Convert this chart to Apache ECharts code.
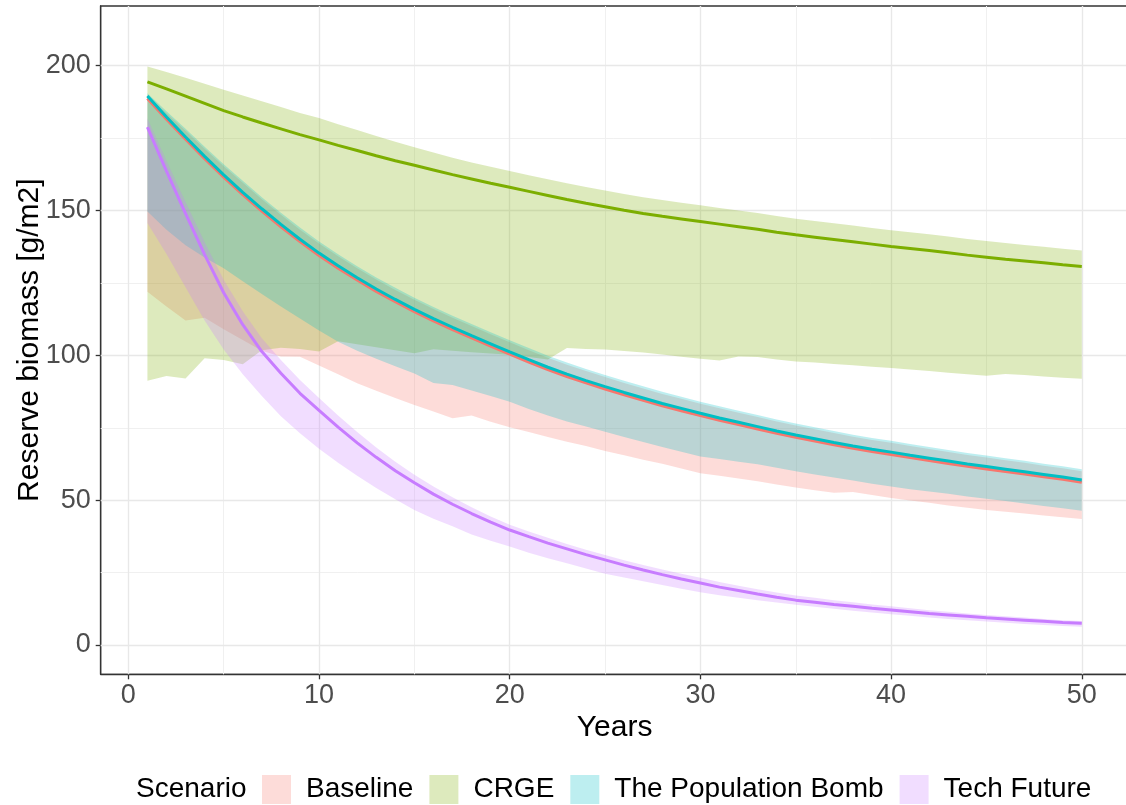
<!DOCTYPE html>
<html><head><meta charset="utf-8">
<script src="https://cdn.jsdelivr.net/npm/echarts@6/dist/echarts.min.js"></script>
<style>html,body{margin:0;padding:0;background:#fff}#c{width:1126px;height:805px}</style>
</head><body><div id="c"></div>
<script>
const years = [1,2,3,4,5,6,7,8,9,10,11,12,13,14,15,16,17,18,19,20,21,22,23,24,25,26,27,28,29,30,31,32,33,34,35,36,37,38,39,40,41,42,43,44,45,46,47,48,49,50];

const baselineMean  = [188.7,181.5,174.6,167.9,161.5,155.5,149.8,144.4,139.3,134.5,130.1,126.0,122.1,118.5,115.1,111.9,108.9,106.0,103.2,100.4,97.7,95.1,92.7,90.5,88.4,86.4,84.5,82.6,80.9,79.2,77.6,76.1,74.6,73.1,71.7,70.4,69.1,67.9,66.8,65.8,64.7,63.7,62.7,61.7,60.8,59.9,59.0,58.1,57.2,56.2];
const baselineUpper = [189.8,183.6,177.5,171.3,165.3,159.6,153.9,148.5,143.4,138.6,134.2,130.1,126.2,122.6,119.2,116.0,113.0,110.1,107.3,104.5,101.8,99.2,96.8,94.6,92.5,90.5,88.6,86.7,85.0,83.3,81.7,80.2,78.7,77.2,75.8,74.5,73.2,71.9,70.8,69.8,68.7,67.7,66.6,65.6,64.7,63.8,62.9,61.9,61.0,60.0];
const baselineLower = [122.0,116.9,112.0,113.0,109.0,105.3,101.6,99.6,99.5,96.5,93.5,90.4,87.8,85.3,82.9,80.6,78.3,79.2,77.1,75.2,73.5,71.8,70.2,68.7,67.0,65.5,64.0,62.6,60.9,59.3,58.4,57.5,56.5,55.4,54.4,53.4,52.6,52.8,51.8,50.8,49.9,49.1,48.2,47.4,46.6,46.0,45.4,44.7,44.1,43.5];

const crgeMean  = [194.4,192.0,189.5,187.0,184.5,182.3,180.2,178.2,176.2,174.4,172.5,170.7,168.9,167.2,165.6,164.0,162.4,160.9,159.4,158.0,156.6,155.2,153.8,152.5,151.3,150.1,149.0,148.0,147.1,146.2,145.3,144.4,143.5,142.5,141.6,140.8,140.0,139.2,138.4,137.6,136.9,136.2,135.4,134.6,133.9,133.2,132.6,132.0,131.3,130.7];
const crgeUpper = [199.7,197.8,195.8,193.8,191.7,189.7,187.7,185.7,183.7,181.9,179.8,177.8,175.7,173.7,171.8,170.0,168.2,166.6,165.1,163.6,162.2,160.8,159.4,158.1,156.9,155.7,154.6,153.6,152.7,151.8,150.9,150.0,149.1,148.1,147.2,146.4,145.6,144.8,144.0,143.2,142.5,141.8,141.0,140.2,139.5,138.8,138.1,137.5,136.8,136.2];
const crgeLower = [91.2,92.9,92.0,99.0,98.4,96.9,101.8,102.6,102.2,101.3,104.9,103.8,102.8,101.8,100.7,102.1,101.6,101.1,100.6,100.2,99.4,98.6,102.5,102.2,102.0,101.5,101.0,100.3,99.5,98.8,98.2,99.6,99.4,98.6,97.9,97.5,97.0,96.6,96.1,95.6,95.1,94.6,94.0,93.5,93.0,93.6,93.2,92.7,92.3,91.9];

const popMean  = [189.5,182.3,175.4,168.7,162.3,156.3,150.6,145.2,140.1,135.3,130.9,126.8,122.9,119.3,115.9,112.7,109.7,106.8,104.0,101.2,98.5,95.9,93.5,91.3,89.2,87.2,85.3,83.4,81.7,80.0,78.4,76.9,75.4,73.9,72.5,71.2,69.9,68.7,67.6,66.6,65.5,64.5,63.5,62.5,61.6,60.7,59.8,58.9,58.0,57.0];
const popUpper = [190.5,184.3,178.2,172.0,166.0,160.3,154.6,149.2,144.1,139.3,134.9,130.8,126.9,123.3,119.9,116.7,113.7,110.8,108.0,105.2,102.5,99.9,97.5,95.3,93.2,91.2,89.3,87.4,85.7,84.0,82.4,80.9,79.4,77.9,76.5,75.2,73.9,72.6,71.5,70.5,69.4,68.4,67.3,66.3,65.4,64.5,63.6,62.6,61.7,60.7];
const popLower = [149.7,143.4,138.0,133.8,130.1,125.6,121.2,116.9,112.7,108.6,104.7,101.6,98.8,96.2,93.7,90.5,89.8,87.9,86.0,84.0,81.5,79.2,77.2,75.4,73.6,71.8,70.1,68.4,66.7,65.1,64.2,63.3,62.4,61.2,60.0,58.9,57.8,56.8,55.7,54.7,53.8,53.0,52.2,51.3,50.5,49.7,48.9,48.0,47.2,46.4];

const techMean  = [178.8,163.6,148.9,134.8,121.6,110.6,101.3,93.8,86.9,81.0,75.2,69.8,64.8,60.2,56.0,52.1,48.6,45.4,42.4,39.7,37.4,35.2,33.2,31.2,29.4,27.6,25.9,24.3,22.8,21.4,20.0,18.8,17.6,16.5,15.5,14.8,14.0,13.4,12.7,12.1,11.5,10.9,10.4,9.9,9.4,9.0,8.6,8.2,7.8,7.5];
const techUpper = [181.8,167.1,152.9,139.1,126.1,115.2,105.9,98.4,91.5,85.3,79.2,73.5,68.2,63.3,58.8,54.7,51.0,47.6,44.4,41.5,39.2,37.0,34.9,32.9,31.1,29.3,27.6,26.1,24.6,23.2,21.8,20.5,19.3,18.1,17.1,16.3,15.5,14.8,14.0,13.4,12.7,12.0,11.5,10.9,10.4,9.9,9.5,9.0,8.6,8.3];
const techLower = [145.7,135.0,123.5,112.0,102.0,93.5,86.0,79.0,73.1,67.8,62.9,58.4,54.2,50.3,46.6,43.6,41.0,38.2,36.0,34.0,31.9,30.0,28.2,26.4,24.6,23.3,22.0,20.7,19.4,18.2,17.2,16.3,15.5,14.7,13.9,13.2,12.5,11.8,11.2,10.6,10.1,9.5,9.0,8.6,8.1,7.7,7.3,6.9,6.6,6.3];

const xMajor = [0,10,20,30,40,50];
const xMinor = [5,15,25,35,45];
const yMajor = [0,50,100,150,200];
const yMinor = [25,75,125,175];

const scenarios = ['Baseline','CRGE','The Population Bomb','Tech Future'];
const colors = ['#F8766D','#7CAE00','#00BFC4','#C77CFF'];
const fills = ['rgba(248,118,109,0.26)','rgba(124,174,0,0.26)','rgba(0,191,196,0.26)','rgba(199,124,255,0.26)'];
const means = [baselineMean, crgeMean, popMean, techMean];
const uppers = [baselineUpper, crgeUpper, popUpper, techUpper];
const lowers = [baselineLower, crgeLower, popLower, techLower];

const FONT = 'Liberation Sans, Arial, sans-serif';
const series = [];

// gridlines (drawn beneath everything)
const gridMarks = [];
xMinor.forEach(v => gridMarks.push({xAxis: v, lineStyle: {color: '#F0F0F0', width: 1, type: 'solid'}}));
yMinor.forEach(v => gridMarks.push({yAxis: v, lineStyle: {color: '#F0F0F0', width: 1, type: 'solid'}}));
xMajor.forEach(v => gridMarks.push({xAxis: v, lineStyle: {color: '#E8E8E8', width: 1.4, type: 'solid'}}));
yMajor.forEach(v => gridMarks.push({yAxis: v, lineStyle: {color: '#E8E8E8', width: 1.4, type: 'solid'}}));

series.push({
  type: 'line', name: 'grid', data: [], symbol: 'none', silent: true, z: 1,
  markLine: {silent: true, symbol: ['none', 'none'], label: {show: false}, z: 1, animation: false, data: gridMarks}
});

// ribbons
scenarios.forEach((s, i) => {
  const lo = lowers[i], up = uppers[i];
  series.push({
    type: 'custom', name: s, silent: true, z: 2, clip: true,
    itemStyle: {color: fills[i]},
    data: years.map((y, j) => [y, lo[j], up[j]]),
    encode: {x: 0, y: [1, 2]},
    renderItem: function (params, api) {
      if (params.dataIndex !== 0) return null;
      const pts = [];
      for (let k = 0; k < years.length; k++) pts.push(api.coord([years[k], up[k]]));
      for (let k = years.length - 1; k >= 0; k--) pts.push(api.coord([years[k], lo[k]]));
      return {type: 'polygon', shape: {points: pts}, style: {fill: fills[i], stroke: null}, silent: true};
    }
  });
});
// mean lines
scenarios.forEach((s, i) => {
  series.push({
    type: 'line', name: s + ' mean', symbol: 'none', silent: true,
    data: years.map((y, j) => [y, means[i][j]]),
    lineStyle: {color: colors[i], width: 3}, itemStyle: {color: colors[i]}, z: 3
  });
});

const chart = echarts.init(document.getElementById('c'), null, {renderer: 'canvas'});
chart.setOption({
  animation: false,
  backgroundColor: '#ffffff',
  textStyle: {fontFamily: FONT},
  grid: {left: 100.7, top: 6, width: 1027.8, height: 668.3, show: true, borderColor: '#333333', borderWidth: 1.3, backgroundColor: 'transparent', outerBoundsMode: 'none', containLabel: false},
  xAxis: {
    type: 'value', min: -1.45, max: 52.45,
    name: 'Years', nameLocation: 'middle', nameGap: 38, nameMoveOverlap: false,
    nameTextStyle: {fontSize: 30, color: '#000', fontFamily: FONT},
    axisLine: {show: true, onZero: false, lineStyle: {color: '#333333', width: 1.3}},
    axisTick: {show: true, inside: false, customValues: xMajor, length: 5, lineStyle: {color: '#333333', width: 1.3}},
    axisLabel: {customValues: xMajor, fontSize: 27, color: '#4D4D4D', margin: 8, fontFamily: FONT},
    splitLine: {show: false}
  },
  yAxis: {
    type: 'value', min: -10.1, max: 220.6,
    name: 'Reserve biomass [g/m2]', nameLocation: 'middle', nameGap: 56, nameRotate: 90, nameMoveOverlap: false,
    nameTextStyle: {fontSize: 30, color: '#000', fontFamily: FONT},
    axisLine: {show: true, onZero: false, lineStyle: {color: '#333333', width: 1.3}},
    axisTick: {show: true, inside: false, customValues: yMajor, length: 5, lineStyle: {color: '#333333', width: 1.3}},
    axisLabel: {customValues: yMajor, fontSize: 27, color: '#4D4D4D', margin: 10, fontFamily: FONT},
    splitLine: {show: false}
  },
  legend: {
    left: 262, top: 775, padding: 0, orient: 'horizontal', itemWidth: 29, itemHeight: 29, itemGap: 16,
    selectedMode: false,
    textStyle: {fontSize: 28, color: '#000', fontFamily: FONT, padding: [0, 0, 0, 10]},
    data: scenarios.map((s, i) => ({name: s, icon: 'rect', itemStyle: {color: fills[i], borderWidth: 0}}))
  },
  graphic: [{type: 'text', x: 136, y: 789, style: {text: 'Scenario', font: '28px ' + FONT, fill: '#000', verticalAlign: 'middle', textVerticalAlign: 'middle'}}],
  series: series
});
</script></body></html>
